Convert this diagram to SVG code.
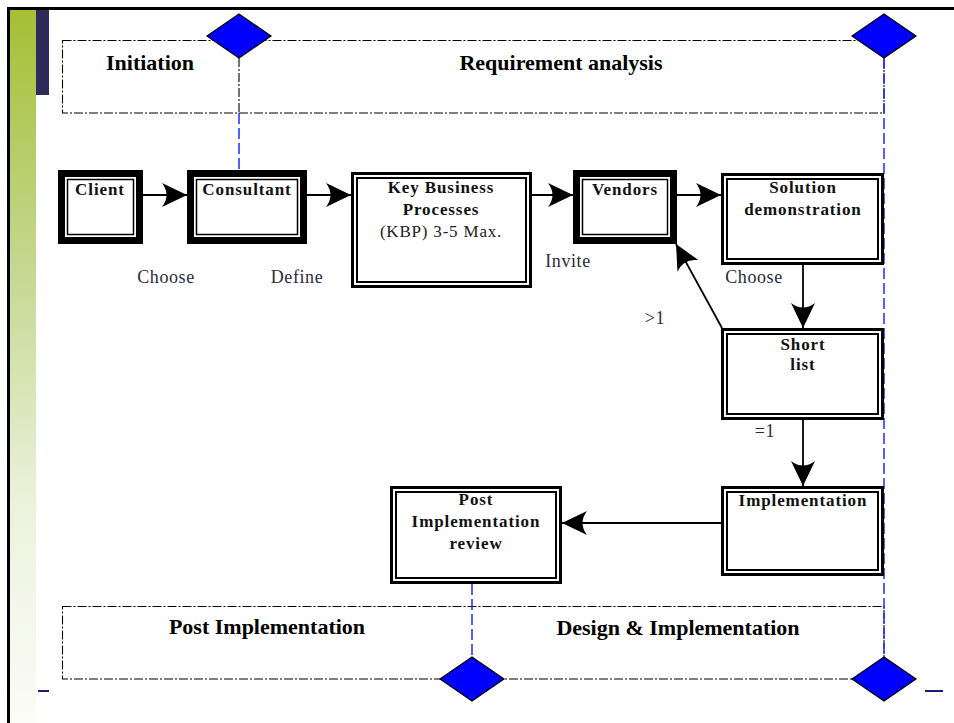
<svg xmlns="http://www.w3.org/2000/svg" width="954" height="723" viewBox="0 0 954 723">
<defs>
<linearGradient id="green" x1="0" y1="0" x2="0" y2="1">
<stop offset="0" stop-color="#a6bf34"/>
<stop offset="0.35" stop-color="#c3d78e"/>
<stop offset="0.7" stop-color="#edf2dd"/>
<stop offset="1" stop-color="#fbfcf7"/>
</linearGradient>
<marker id="arr" viewBox="0 0 25 24" refX="25" refY="12" markerWidth="25" markerHeight="24" markerUnits="userSpaceOnUse" orient="auto">
<path d="M0,0 L25,12 L0,24 Q9,12 0,0 Z" fill="#000"/>
</marker>
<style>
.phase{fill:none;stroke:#000;stroke-width:1.1;stroke-dasharray:9 2 2 2}
.blue{fill:none;stroke:#1f2cff;stroke-width:1.5;stroke-dasharray:11 4}
.dia{fill:#0000ff;stroke:#000;stroke-width:1.2}
.ptxt{font-family:"Liberation Serif",serif;font-weight:bold;font-size:22px;fill:#000;text-anchor:middle}
.ntxt{font-family:"Liberation Serif",serif;font-weight:bold;font-size:17px;fill:#111;text-anchor:middle;letter-spacing:0.9px}
.rtxt{font-family:"Liberation Serif",serif;font-size:17px;fill:#222;text-anchor:middle;letter-spacing:0.8px}
.lbl{font-family:"Liberation Serif",serif;font-size:18px;fill:#2b2b3b;text-anchor:middle;letter-spacing:0.6px}
.thick{fill:#fff;stroke:#000;stroke-width:7}
.thin{fill:none;stroke:#000;stroke-width:1.5}
.dbl{fill:#fff;stroke:#000;stroke-width:3}
.dbl2{fill:none;stroke:#000;stroke-width:2}
.conn{fill:none;stroke:#000;stroke-width:1.8;marker-end:url(#arr)}
</style>
</defs>
<rect width="954" height="723" fill="#fff"/>
<g id="slide">
<rect x="10" y="10" width="26" height="713" fill="url(#green)"/>
<rect x="36" y="10" width="13" height="85" fill="#2f2a5a"/>
<line x1="7" y1="8.5" x2="954" y2="8.5" stroke="#000" stroke-width="3"/>
<line x1="8.5" y1="7" x2="8.5" y2="723" stroke="#000" stroke-width="3"/>
<line x1="38" y1="691" x2="49" y2="691" stroke="#1a1a7a" stroke-width="2"/>
<line x1="925" y1="691" x2="943" y2="691" stroke="#1a1a7a" stroke-width="2"/>
</g>
<g id="phases">
<rect class="phase" x="62.5" y="40.5" width="821.5" height="72.5"/>
<rect class="phase" x="62.5" y="606.5" width="821.5" height="72.5"/>
<line class="phase" x1="239" y1="58" x2="239" y2="113"/>
<line class="blue" x1="239" y1="113" x2="239" y2="170"/>
<line class="blue" x1="884" y1="58" x2="884" y2="657"/>
<line class="blue" x1="472" y1="584" x2="472" y2="657"/>
<text class="ptxt" x="150" y="70">Initiation</text>
<text class="ptxt" x="561" y="70">Requirement analysis</text>
<text class="ptxt" x="267" y="634">Post Implementation</text>
<text class="ptxt" x="678" y="635">Design &amp; Implementation</text>
</g>
<g id="milestone-1"><path class="dia" d="M239,14 L271,36 L239,58 L207,36 Z"/></g>
<g id="milestone-2"><path class="dia" d="M884,14 L916,36 L884,58 L852,36 Z"/></g>
<g id="milestone-3"><path class="dia" d="M472,657 L504,679 L472,701 L440,679 Z"/></g>
<g id="milestone-4"><path class="dia" d="M884,657 L916,679 L884,701 L852,679 Z"/></g>
<g id="connectors">
<line class="conn" x1="143" y1="195" x2="187" y2="195"/>
<line class="conn" x1="307" y1="195" x2="351" y2="195"/>
<line class="conn" x1="532" y1="195" x2="573" y2="195"/>
<line class="conn" x1="677" y1="195" x2="721" y2="195"/>
<line class="conn" x1="803" y1="265" x2="803" y2="328"/>
<line class="conn" x1="722" y1="328" x2="676" y2="244"/>
<line class="conn" x1="803" y1="420" x2="803" y2="486"/>
<line class="conn" x1="721" y1="523" x2="562" y2="523"/>
<text class="lbl" x="166" y="283">Choose</text>
<text class="lbl" x="297" y="283">Define</text>
<text class="lbl" x="568" y="267">Invite</text>
<text class="lbl" x="754" y="283">Choose</text>
<text class="lbl" x="655" y="324">&gt;1</text>
<text class="lbl" x="765" y="437">=1</text>
</g>
<g id="client">
<rect class="thick" x="61.5" y="173.5" width="78" height="67"/>
<rect class="thin" x="67.5" y="179.5" width="66" height="55"/>
<text class="ntxt" x="100" y="195">Client</text>
</g>
<g id="consultant">
<rect class="thick" x="190.5" y="173.5" width="113" height="67"/>
<rect class="thin" x="196.5" y="179.5" width="101" height="55"/>
<text class="ntxt" x="247" y="195">Consultant</text>
</g>
<g id="kbp">
<rect class="dbl" x="352.5" y="173.5" width="178" height="113"/>
<rect class="dbl2" x="357" y="178" width="169" height="104"/>
<text class="ntxt" x="441" y="193">Key Business</text>
<text class="ntxt" x="441" y="215">Processes</text>
<text class="rtxt" x="441" y="237">(KBP) 3-5 Max.</text>
</g>
<g id="vendors">
<rect class="thick" x="576.5" y="173.5" width="97" height="67"/>
<rect class="thin" x="582.5" y="179.5" width="85" height="55"/>
<text class="ntxt" x="625" y="195">Vendors</text>
</g>
<g id="solution">
<rect class="dbl" x="722.5" y="174.5" width="160" height="89"/>
<rect class="dbl2" x="727" y="179" width="151" height="80"/>
<text class="ntxt" x="803" y="193">Solution</text>
<text class="ntxt" x="803" y="215">demonstration</text>
</g>
<g id="shortlist">
<rect class="dbl" x="722.5" y="329.5" width="160" height="89"/>
<rect class="dbl2" x="727" y="334" width="151" height="80"/>
<text class="ntxt" x="803" y="350">Short</text>
<text class="ntxt" x="803" y="370">list</text>
</g>
<g id="implementation">
<rect class="dbl" x="722.5" y="487.5" width="160" height="87"/>
<rect class="dbl2" x="727" y="492" width="151" height="78"/>
<text class="ntxt" x="803" y="506">Implementation</text>
</g>
<g id="post-review">
<rect class="dbl" x="391.5" y="487.5" width="169" height="95"/>
<rect class="dbl2" x="396" y="492" width="160" height="86"/>
<text class="ntxt" x="476" y="505">Post</text>
<text class="ntxt" x="476" y="527">Implementation</text>
<text class="ntxt" x="476" y="549">review</text>
</g>
</svg>
